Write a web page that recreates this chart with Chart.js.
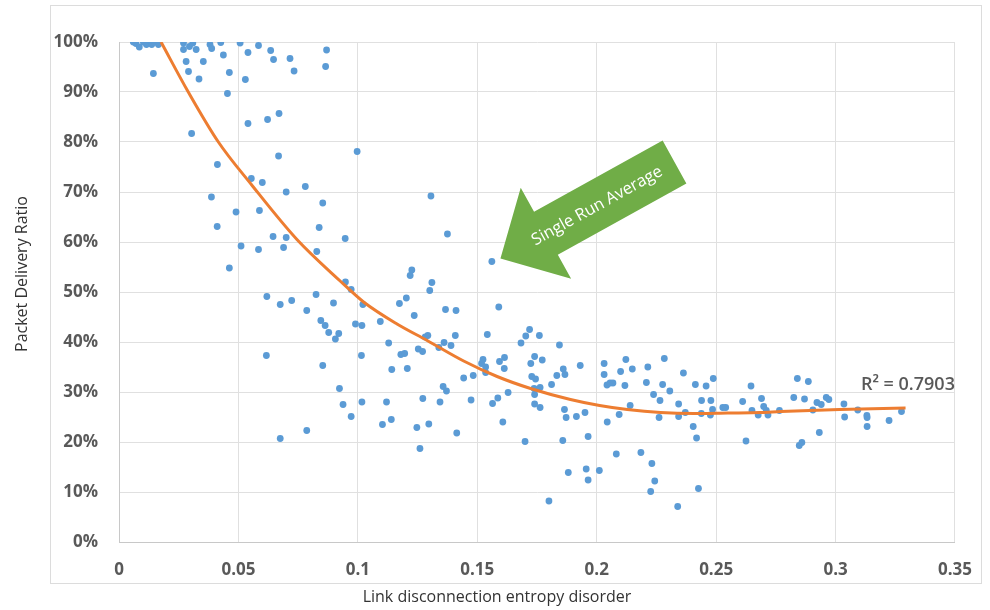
<!DOCTYPE html>
<html>
<head>
<meta charset="utf-8">
<title>Packet Delivery Ratio vs Link disconnection entropy disorder</title>
<script src="https://cdn.jsdelivr.net/npm/chart.js@4.4.1/dist/chart.umd.min.js"></script>
<style>
    html, body { margin: 0; padding: 0; background: #ffffff; }
    #wrap { width: 990px; height: 610px; }
</style>
</head>
<body>
<div id="wrap"><canvas id="pdr-chart" width="990" height="610"></canvas></div>
<script>
// Scatter points: x = link disconnection entropy disorder, y = packet delivery ratio (%)
const pointX = [
    0.006, 0.0071, 0.0085, 0.0102, 0.0115, 0.0137, 0.0148, 0.0165, 0.0144,
    0.027, 0.027, 0.0295, 0.0309, 0.0323, 0.0281, 0.0291, 0.0335, 0.0353,
    0.0381, 0.0388, 0.0426, 0.0437, 0.0462, 0.0454, 0.0507, 0.054, 0.0584, 0.0529,
    0.0635, 0.0647, 0.0716, 0.0733, 0.0869, 0.0865, 0.0304, 0.054, 0.0622, 0.067,
    0.0412, 0.0668, 0.0554, 0.06, 0.07, 0.078, 0.0853, 0.0387, 0.049, 0.0588, 0.0411,
    0.0645, 0.07, 0.0838, 0.0511, 0.0584, 0.0689, 0.0828, 0.0462,
    0.0619, 0.0675, 0.0723, 0.0825, 0.0786, 0.0898, 0.0845, 0.0863, 0.0878, 0.0906, 0.092,
    0.0617, 0.0853, 0.0923, 0.0786, 0.0675,
    0.0997, 0.1306, 0.0947, 0.1375, 0.1561, 0.1226, 0.1219, 0.131, 0.0948,
    0.1301, 0.0972, 0.1021, 0.1017, 0.099, 0.1174, 0.1203, 0.1236, 0.1094, 0.1129,
    0.1367, 0.1411, 0.159, 0.1015, 0.1142, 0.118, 0.1196, 0.1207,
    0.1253, 0.1271, 0.1282, 0.1293, 0.1339, 0.1361, 0.139, 0.1408,
    0.1542, 0.1524, 0.1518, 0.1535, 0.1535, 0.1443, 0.1483,
    0.0938, 0.0972, 0.1017, 0.112, 0.1103, 0.114, 0.1272, 0.1247, 0.1297, 0.126,
    0.1357, 0.1371, 0.1344, 0.1414, 0.1474, 0.1564, 0.1586, 0.1607, 0.1629,
    0.1593, 0.1614, 0.1613, 0.1683, 0.1703, 0.1719, 0.176, 0.1724, 0.174, 0.1772,
    0.1728, 0.1744, 0.1738, 0.174, 0.1763, 0.174, 0.1763, 0.17,
    0.1811, 0.1833, 0.1844, 0.186, 0.1867, 0.1865, 0.1872, 0.1858, 0.1881, 0.18,
    0.1931, 0.1951, 0.1915, 0.1964, 0.1956, 0.1964, 0.2011,
    0.2031, 0.2031, 0.2043, 0.2056, 0.2068, 0.2044,
    0.2122, 0.21, 0.2149, 0.2118, 0.214, 0.2094, 0.2082,
    0.2214, 0.2208, 0.2238, 0.2265, 0.2261, 0.2185, 0.2231, 0.2243, 0.2226,
    0.2283, 0.2276, 0.2306, 0.2343, 0.2343, 0.2339,
    0.2363, 0.2371, 0.2404, 0.2418, 0.2426, 0.2413,
    0.2458, 0.2439, 0.2438, 0.2478, 0.2476, 0.2485, 0.2488, 0.2528, 0.254,
    0.2611, 0.2625, 0.2646, 0.265, 0.269, 0.2676, 0.2699, 0.271, 0.2717,
    0.2765, 0.2825, 0.284, 0.2886, 0.287, 0.2905, 0.2922, 0.294, 0.2961, 0.2972,
    0.2932, 0.2848, 0.2859, 0.3035, 0.3038, 0.3093, 0.3131, 0.3132, 0.3132, 0.3224, 0.3276
];
const pointY = [
    100, 99.7, 99, 100, 99.5, 99.5, 100, 99.5, 93.7,
    99.8, 98.5, 99.1, 99.8, 98.5, 96.1, 94.1, 92.6, 96.1,
    99.5, 98.7, 99.9, 97.4, 93.9, 89.7, 99.8, 97.9, 99.3, 92.5,
    98.3, 96.5, 96.7, 94.2, 98.4, 95.1, 81.7, 83.7, 84.5, 85.7,
    75.5, 77.2, 72.7, 71.9, 70, 71.1, 67.8, 69, 66, 66.3, 63.1,
    61.1, 60.9, 62.9, 59.2, 58.5, 58.9, 58.1, 54.8,
    49.1, 47.5, 48.3, 49.5, 46.3, 47.8, 44.3, 43.3, 41.9, 40.6, 41.7,
    37.3, 35.3, 30.7, 22.3, 20.7,
    78.1, 69.2, 60.7, 61.6, 56.1, 54.4, 53.3, 51.9, 52,
    50.3, 50.5, 47.5, 43.3, 43.6, 47.7, 48.8, 45.3, 44.1, 39.8,
    46.5, 46.3, 47, 37.3, 34.5, 37.5, 37.7, 34.7,
    38.6, 38.1, 41, 41.3, 38.9, 39.9, 39.3, 41.3,
    41.5, 36.5, 35.7, 35, 33.9, 32.8, 33.3,
    27.5, 25.1, 28, 28, 23.5, 24.5, 28.7, 22.9, 23.6, 18.7,
    31.1, 30.2, 28, 21.8, 28.4, 27.7, 28.8, 24, 29.9,
    36.1, 36.9, 34.7, 39.8, 41.2, 42.5, 41.3, 35.7, 37.1, 36.4,
    33.1, 32.6, 30.7, 29.5, 30.9, 27.6, 26.9, 20.1,
    31.5, 33.3, 39.4, 34.6, 33.5, 26.5, 24.9, 20.3, 13.9, 8.2,
    35.3, 25.9, 25.1, 21.1, 14.6, 12.4, 14.3,
    35.7, 33.5, 31.4, 31.8, 31.8, 24,
    36.5, 34.1, 34.6, 31.3, 27.3, 25.5, 17.6,
    35, 31.9, 29.5, 28.3, 24.9, 17.9, 15.7, 12.2, 10.1,
    36.7, 31.5, 30.2, 27.6, 25.1, 7.1,
    33.8, 25.9, 23.1, 20.8, 10.7, 31.5,
    31.2, 28.3, 25.7, 28.3, 25.4, 26.5, 32.7, 26.9, 26.9,
    28.1, 20.2, 31.2, 26.3, 28.7, 25.4, 27.1, 26.3, 25.4,
    26.3, 28.9, 32.7, 32.1, 28.6, 26.4, 27.9, 27.5, 28.9, 28.5,
    21.9, 19.3, 19.9, 27.6, 25, 26.4, 25.3, 24.9, 23.1, 24.3, 26.1
];

// Trendline
const trendX = [0.0176, 0.029, 0.0416, 0.0554, 0.0745, 0.0926, 0.1024, 0.1164, 0.129, 0.1443,
    0.1583, 0.1723, 0.189, 0.2012, 0.2128, 0.2267, 0.2407, 0.2547, 0.2687, 0.2771, 0.3016, 0.3293];
const trendY = [100, 90, 80, 71.5, 60.5, 52.2, 48, 43.6, 40.3, 36.2,
    33.1, 30.7, 28.5, 27.3, 26.5, 25.9, 25.7, 25.8, 25.9, 26.1, 26.5, 26.8];

const xTickLabels = ['0', '0.05', '0.1', '0.15', '0.2', '0.25', '0.3', '0.35'];
const xTitle = 'Link disconnection entropy disorder';
const yTitle = 'Packet Delivery Ratio';
const rSquaredText = 'R² = 0.7903';
const rSquaredAt = [0.3106, 31.4];
const arrowText = 'Single Run Average';
const arrowTip = [0.1597, 56.7];

const tickColor = '#595959';
const gridColor = '#e0e0e0';

const scatterPoints = pointX.map((x, i) => ({ x: x, y: pointY[i] }));
const trendPoints = trendX.map((x, i) => ({ x: x, y: trendY[i] }));

// Frame, axis titles, arrow callout and R² label
const decorPlugin = {
    id: 'decor',
    beforeDraw(chart) {
        const ctx = chart.ctx;
        ctx.save();
        ctx.strokeStyle = '#dcdcdc';
        ctx.lineWidth = 1;
        ctx.strokeRect(50.5, 5.5, 931, 578);
        ctx.restore();
    },
    afterDraw(chart) {
        const ctx = chart.ctx;
        ctx.save();
        ctx.fillStyle = '#333333';
        ctx.font = '16px "Open Sans"';
        ctx.textAlign = 'center';
        ctx.textBaseline = 'middle';
        ctx.fillText(xTitle, 497, 597);
        ctx.translate(22, 274);
        ctx.rotate(-Math.PI / 2);
        ctx.fillText(yTitle, 0, 0);
        ctx.restore();
    },
    afterDatasetsDraw(chart) {
        const ctx = chart.ctx;
        const xs = chart.scales.x;
        const ys = chart.scales.y;

        // R squared label
        ctx.save();
        ctx.fillStyle = tickColor;
        ctx.font = '600 18px "Open Sans"';
        ctx.textAlign = 'left';
        ctx.textBaseline = 'middle';
        ctx.fillText(rSquaredText, xs.getPixelForValue(rSquaredAt[0]), ys.getPixelForValue(rSquaredAt[1]));
        ctx.restore();

        // green block arrow pointing down-left
        const tx = xs.getPixelForValue(arrowTip[0]);
        const ty = ys.getPixelForValue(arrowTip[1]);
        const len = 199, headLen = 52, headHalf = 52, shaftHalf = 24.5;
        ctx.save();
        ctx.translate(tx, ty);
        ctx.rotate(-29 * Math.PI / 180);
        ctx.fillStyle = '#70ad47';
        ctx.beginPath();
        ctx.moveTo(0, 0);
        ctx.lineTo(headLen, -headHalf);
        ctx.lineTo(headLen, -shaftHalf);
        ctx.lineTo(len, -shaftHalf);
        ctx.lineTo(len, shaftHalf);
        ctx.lineTo(headLen, shaftHalf);
        ctx.lineTo(headLen, headHalf);
        ctx.closePath();
        ctx.fill();
        ctx.fillStyle = '#ffffff';
        ctx.font = '16.5px "Open Sans"';
        ctx.textAlign = 'center';
        ctx.textBaseline = 'middle';
        ctx.fillText(arrowText, 110, 1);
        ctx.restore();
    }
};

new Chart(document.getElementById('pdr-chart'), {
    type: 'scatter',
    data: {
        datasets: [
            {
                type: 'line',
                label: 'Trend',
                data: trendPoints,
                borderColor: '#ed7d31',
                borderWidth: 3,
                pointRadius: 0,
                fill: false,
                cubicInterpolationMode: 'monotone'
            },
            {
                label: 'Single runs',
                data: scatterPoints,
                backgroundColor: '#5b9bd5',
                borderWidth: 0,
                pointRadius: 3.4,
                pointHoverRadius: 3.4
            }
        ]
    },
    options: {
        responsive: false,
        animation: false,
        devicePixelRatio: 1,
        layout: {
            padding: { left: 8, top: 42, right: 32, bottom: 0 }
        },
        scales: {
            x: {
                type: 'linear',
                min: 0,
                max: 0.35,
                afterFit: function(scale) { scale.height = 68; },
                afterBuildTicks: function(scale) {
                    scale.ticks = xTickLabels.map((t, i) => ({ value: i * 0.05 }));
                },
                grid: { color: gridColor, drawTicks: false },
                border: { color: '#c8c8c8' },
                ticks: {
                    color: tickColor,
                    padding: 18,
                    maxRotation: 0,
                    font: { family: 'Open Sans', size: 17, weight: 'bold' },
                    callback: function(value, index) { return xTickLabels[index]; }
                }
            },
            y: {
                min: 0,
                max: 100,
                afterFit: function(scale) { scale.width = 111; },
                grid: { color: gridColor, drawTicks: false },
                border: { color: '#c8c8c8' },
                ticks: {
                    stepSize: 10,
                    color: tickColor,
                    padding: 21,
                    font: { family: 'Open Sans', size: 17, weight: 'bold' },
                    callback: function(value) { return value + '%'; }
                }
            }
        },
        plugins: {
            legend: { display: false },
            tooltip: { enabled: false }
        }
    },
    plugins: [decorPlugin]
});
</script>
</body>
</html>
